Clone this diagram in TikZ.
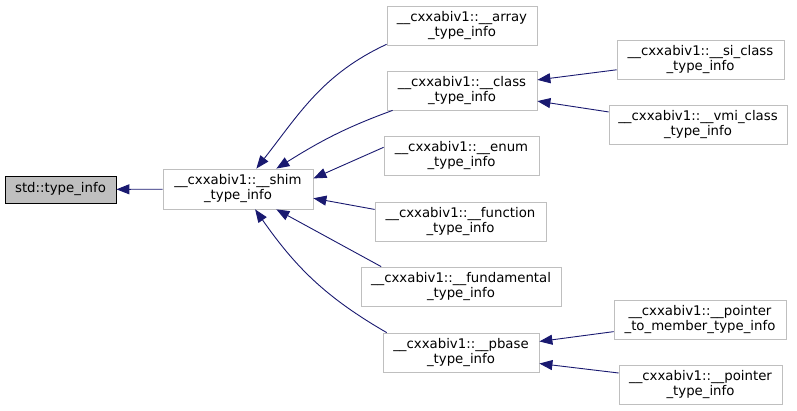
\documentclass[tikz,border=0pt]{standalone}
\usepackage{fontspec}
\setmainfont{DejaVu Sans}
\usetikzlibrary{arrows.meta}
\definecolor{edgeblue}{HTML}{191970}
\definecolor{boxgray}{HTML}{BFBFBF}

\begin{document}
\begin{tikzpicture}[x=1pt,y=-1pt,
  cls/.style={draw=boxgray, line width=0.8pt, fill=white, align=center, inner sep=0pt,
    minimum height=39pt, font=\fontsize{13.3}{15}\selectfont},
  root/.style={draw=black, line width=0.8pt, fill=boxgray, inner sep=0pt,
    minimum width=111pt, minimum height=27pt, font=\fontsize{13.3}{15}\selectfont},
  edge/.style={draw=edgeblue, line width=0.9pt, -{Triangle[length=13pt,width=10pt]}}]
\useasboundingbox (0,0) rectangle (797,411);
\node[root] (tinfo) at (60.5,189.5) {std::type\_info};
\node[cls, minimum width=150pt, minimum height=40pt] (shim) at (238,189) {\_\_cxxabiv1::\_\_shim\\\_type\_info};
\node[cls, minimum width=150pt] (array) at (462,25.5) {\_\_cxxabiv1::\_\_array\\\_type\_info};
\node[cls, minimum width=150pt] (class) at (462,90.5) {\_\_cxxabiv1::\_\_class\\\_type\_info};
\node[cls, minimum width=167pt] (si) at (700.5,59.5) {\_\_cxxabiv1::\_\_si\_class\\\_type\_info};
\node[cls, minimum width=178pt] (vmi) at (698,124.5) {\_\_cxxabiv1::\_\_vmi\_class\\\_type\_info};
\node[cls, minimum width=155pt] (enum) at (461.5,155.5) {\_\_cxxabiv1::\_\_enum\\\_type\_info};
\node[cls, minimum width=171pt] (function) at (460.5,221.5) {\_\_cxxabiv1::\_\_function\\\_type\_info};
\node[cls, minimum width=200pt] (fundamental) at (461,286.5) {\_\_cxxabiv1::\_\_fundamental\\\_type\_info};
\node[cls, minimum width=156pt] (pbase) at (461,352.5) {\_\_cxxabiv1::\_\_pbase\\\_type\_info};
\node[cls, minimum width=172pt] (ptm) at (700,319.5) {\_\_cxxabiv1::\_\_pointer\\\_to\_member\_type\_info};
\node[cls, minimum width=163pt] (pointer) at (700.5,384.5) {\_\_cxxabiv1::\_\_pointer\\\_type\_info};

\path[edge] (shim) -- (tinfo);
\path[edge] (array.194) to[out=205,in=52] (shim.48);
\path[edge] (class.196) to[out=200,in=32] (shim.28);
\path[edge] (enum.174) -- (shim.8);
\path[edge] (function.172) -- (shim.-7);
\path[edge] (fundamental.166) -- (shim.-28);
\path[edge] (pbase.165) to[out=150,in=-55] (shim.-50);
\path[edge] (si.187) -- (class.8);
\path[edge] (vmi.172) -- (class.-8);
\path[edge] (ptm.188) -- (pbase.8);
\path[edge] (pointer.172) -- (pbase.-8);
\end{tikzpicture}
\end{document}
